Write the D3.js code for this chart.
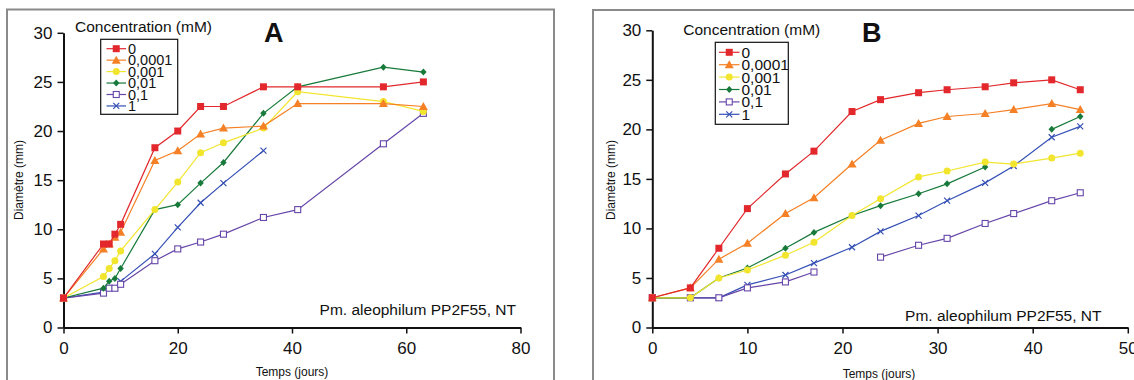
<!DOCTYPE html>
<html><head><meta charset="utf-8">
<script src="https://cdn.jsdelivr.net/npm/d3@7"></script>
<style>body{margin:0;background:#fff}svg{display:block;font-family:"Liberation Sans",Arial,sans-serif}</style>
</head><body><svg id="c" width="1134" height="380"></svg>
<script>
const concentrations = ["0","0,0001","0,001","0,01","0,1","1"];
const colors = ["#e2282c","#f58025","#f2e52e","#177a3a","#6646a8","#3550b5"];
const markers = ["square","triangle","circle","diamond","opensquare","cross"];

const daysA = [0,7,8,9,10,16,20,24,28,35,41,56,63];
const seriesA = [
  [3,8.5,8.5,9.5,10.5,18.3,20,22.5,22.5,24.5,24.5,24.5,25],
  [3,8,8.5,9.2,9.7,17,18,19.7,20.3,20.5,22.8,22.8,22.5],
  [3,5.2,6,6.8,7.8,12,14.8,17.8,18.8,20.3,24,23,22],
  [3,4,4.7,5,6,12,12.5,14.7,16.8,21.8,24.5,26.5,26],
  [3,3.5,4,4,4.4,6.8,8,8.7,9.5,11.2,12,18.7,21.8],
  [3,3.6,4,4,4.7,7.5,10.2,12.7,14.7,18,null,null,null]
];
const daysB = [0,4,7,10,14,17,21,24,28,31,35,38,42,45];
const seriesB = [
  [3,4,8,12,15.5,17.8,21.8,23,23.7,24,24.3,24.7,25,24],
  [3,4,6.9,8.5,11.5,13.1,16.5,18.9,20.6,21.3,21.6,22,22.6,22],
  [3,3,5,5.8,7.3,8.6,11.3,13,15.2,15.8,16.7,16.5,17.1,17.6],
  [3,3,5,6,8,9.6,11.3,12.3,13.5,14.5,16.2,null,20,21.3],
  [3,3,3,4,4.6,5.6,null,7.1,8.3,9,10.5,11.5,12.8,13.6],
  [3,3,3,4.3,5.3,6.5,8.1,9.7,11.3,12.8,14.6,16.3,19.2,20.3]
];
const yTicks = [0,5,10,15,20,25,30];
const xTicksA = [0,20,40,60,80];
const xTicksB = [0,10,20,30,40,50];

const svg = d3.select("#c");

function marker(g, type, x, y, color, s) {
  if (type === "square") g.append("rect").attr("x",x-s/2).attr("y",y-s/2).attr("width",s).attr("height",s).attr("fill",color);
  else if (type === "triangle") g.append("path").attr("d",`M${x},${y-4.5}L${x+4.5},${y+3.5}L${x-4.5},${y+3.5}Z`).attr("fill",color);
  else if (type === "circle") g.append("circle").attr("cx",x).attr("cy",y).attr("r",s/2).attr("fill",color);
  else if (type === "diamond") g.append("path").attr("d",`M${x},${y-3.5}L${x+3.2},${y}L${x},${y+3.5}L${x-3.2},${y}Z`).attr("fill",color);
  else if (type === "opensquare") g.append("rect").attr("x",x-3).attr("y",y-3).attr("width",6).attr("height",6).attr("fill","#fff").attr("stroke",color).attr("stroke-width",1.1);
  else if (type === "cross") g.append("path").attr("d",`M${x-3},${y-3}L${x+3},${y+3}M${x-3},${y+3}L${x+3},${y-3}`).attr("stroke",color).attr("stroke-width",1.2);
}

function panel(cfg) {
  const g = svg.append("g");
  g.append("rect").attr("x",cfg.frame[0]).attr("y",cfg.frame[1]).attr("width",cfg.frame[2]).attr("height",cfg.frame[3])
    .attr("fill","none").attr("stroke","#8a8a8a").attr("stroke-width",2);
  const x = d3.scaleLinear().domain(cfg.xDomain).range(cfg.xRange);
  const y = d3.scaleLinear().domain([0,30]).range(cfg.yRange);

  const xa = g.append("g").attr("transform",`translate(0,${cfg.yRange[0]})`)
    .call(d3.axisBottom(x).tickValues(cfg.xTicks).tickSize(6).tickPadding(8).tickSizeOuter(0));
  const ya = g.append("g").attr("transform",`translate(${cfg.xRange[0]},0)`)
    .call(d3.axisLeft(y).tickValues(yTicks).tickSize(6).tickPadding(5).tickSizeOuter(0));
  [xa,ya].forEach(a=>{
    a.select(".domain").attr("stroke","#111").attr("stroke-width",2);
    a.selectAll(".tick line").attr("stroke","#111").attr("stroke-width",1.5);
    a.selectAll(".tick text").attr("font-size",17).attr("fill","#111").attr("font-family","Liberation Sans, Arial, sans-serif");
  });

  const line = d3.line().defined(d=>d[1]!=null).x(d=>x(d[0])).y(d=>y(d[1]));
  for (let i = cfg.series.length-1; i >= 0; i--) {
    const pts = cfg.days.map((d,j)=>[d,cfg.series[i][j]]);
    g.append("path").datum(pts).attr("d",line).attr("fill","none").attr("stroke",colors[i]).attr("stroke-width",1.2);
    pts.filter(p=>p[1]!=null).forEach(p=>marker(g, markers[i], x(p[0]), y(p[1]), colors[i], 7));
  }

  g.append("text").attr("x",cfg.xTitle[0]).attr("y",cfg.xTitle[1]).attr("text-anchor","middle").attr("font-size",12).attr("fill","#111").text("Temps (jours)");
  g.append("text").attr("transform",`translate(${cfg.yTitle[0]},${cfg.yTitle[1]}) rotate(-90)`).attr("text-anchor","middle").attr("font-size",12).attr("fill","#111").text("Diamètre (mm)");
  g.append("text").attr("x",cfg.strain[0]).attr("y",cfg.strain[1]).attr("text-anchor","end").attr("font-size",15.5).attr("fill","#111").text("Pm. aleophilum PP2F55, NT");
  g.append("text").attr("x",cfg.conc[0]).attr("y",cfg.conc[1]).attr("font-size",15.5).attr("fill","#111").text("Concentration (mM)");
  g.append("text").attr("x",cfg.letter[0]).attr("y",cfg.letter[1]).attr("font-size",27).attr("font-weight","bold").attr("fill","#111").text(cfg.letterText);

  const L = cfg.legend;
  g.append("rect").attr("x",L.box[0]).attr("y",L.box[1]).attr("width",L.box[2]).attr("height",L.box[3]).attr("fill","#fff").attr("stroke","#111").attr("stroke-width",1.2);
  concentrations.forEach((c,i)=>{
    const yy = L.y0 + i*L.dy;
    g.append("line").attr("x1",L.x1).attr("x2",L.x2).attr("y1",yy).attr("y2",yy).attr("stroke",colors[i]).attr("stroke-width",1.2);
    marker(g, markers[i], (L.x1+L.x2)/2, yy, colors[i], 7);
    g.append("text").attr("x",L.tx).attr("y",yy).attr("dy","0.36em").attr("font-size",L.fs).attr("fill","#111").text(c);
  });
}

panel({
  frame:[7,9.5,547,400], xDomain:[0,80], xRange:[63.5,520.5], yRange:[327.5,32.8],
  xTicks:xTicksA, days:daysA, series:seriesA,
  xTitle:[292,375.5], yTitle:[23,180], strain:[516,315], conc:[75,31.5], letter:[264,42], letterText:"A",
  legend:{box:[100.7,39.3,77,75], x1:106.5, x2:126, tx:128, y0:48.7, dy:11.45, fs:14.5}
});
panel({
  frame:[593,10,560,400], xDomain:[0,50], xRange:[652.3,1127.8], yRange:[327.5,30.3],
  xTicks:xTicksB, days:daysB, series:seriesB,
  xTitle:[879,377.5], yTitle:[614.5,180], strain:[1101.5,320.5], conc:[683.3,35], letter:[862,42], letterText:"B",
  legend:{box:[715.3,42.3,73,82], x1:719, x2:739.5, tx:741.5, y0:52.3, dy:12.4, fs:15.5}
});
</script></body></html>
